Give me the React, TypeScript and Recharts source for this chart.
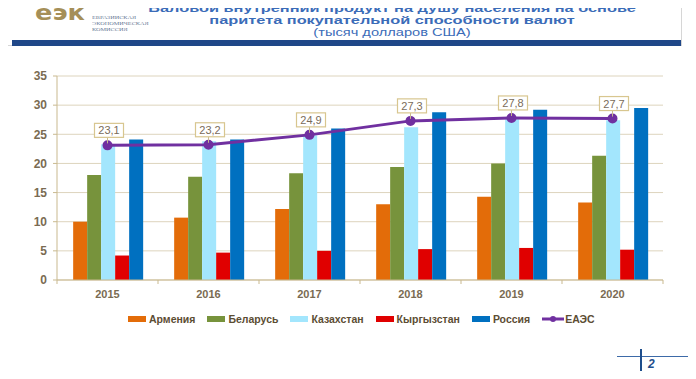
import React from "react";
import {
  ComposedChart,
  Bar,
  Line,
  XAxis,
  YAxis,
  CartesianGrid,
  LabelList,
} from "recharts";

const years = ["2015", "2016", "2017", "2018", "2019", "2020"];
const armenia = [10.0, 10.7, 12.2, 13.0, 14.3, 13.3];
const belarus = [18.0, 17.7, 18.3, 19.4, 20.0, 21.3];
const kazakhstan = [23.3, 23.8, 24.8, 26.2, 27.6, 27.4];
const kyrgyzstan = [4.2, 4.7, 5.0, 5.3, 5.5, 5.2];
const russia = [24.1, 24.1, 26.0, 28.8, 29.2, 29.5];
const eaes = [23.1, 23.2, 24.9, 27.3, 27.8, 27.7];
const yTicks = [0, 5, 10, 15, 20, 25, 30, 35];

const bars = [
  { key: "armenia", name: "Армения", color: "#e36c09" },
  { key: "belarus", name: "Беларусь", color: "#77933c" },
  { key: "kazakhstan", name: "Казахстан", color: "#a3e6fd" },
  { key: "kyrgyzstan", name: "Кыргызстан", color: "#e00000" },
  { key: "russia", name: "Россия", color: "#0070c0" },
];
const lineColor = "#7030a0";

const data = years.map((year, i) => ({
  year,
  armenia: armenia[i],
  belarus: belarus[i],
  kazakhstan: kazakhstan[i],
  kyrgyzstan: kyrgyzstan[i],
  russia: russia[i],
  eaes: eaes[i],
}));

const font = "'Liberation Sans', Arial, sans-serif";
const tickColor = "#7a6b52";
const gridColor = "#ddd4bd";
const titleColor = "#3b6cb8";

function YearTick(props: any) {
  const { x, y, payload, index } = props;
  const half = 50.5;
  return (
    <g>
      <line x1={x - half} y1={y - 8} x2={x - half} y2={y - 4} stroke="#c9b98f" />
      {index === years.length - 1 && (
        <line x1={x + half} y1={y - 8} x2={x + half} y2={y - 4} stroke="#c9b98f" />
      )}
      <text
        x={x}
        y={y + 10}
        textAnchor="middle"
        fill={tickColor}
        fontSize={11}
        fontWeight="bold"
        fontFamily={font}
      >
        {payload.value}
      </text>
    </g>
  );
}

function BoxLabel(props: any) {
  const { x, y, value } = props;
  const text = String(value).replace(".", ",");
  return (
    <g>
      <line x1={x} y1={y - 8} x2={x} y2={y - 2} stroke="#c9b98f" />
      <rect
        x={x - 13}
        y={y - 22}
        width={29}
        height={14}
        fill="#ffffff"
        stroke="#d8c68f"
        strokeWidth={1.2}
      />
      <text
        x={x + 1.5}
        y={y - 11}
        textAnchor="middle"
        fill="#7a6b5a"
        fontSize={11}
        fontFamily={font}
      >
        {text}
      </text>
    </g>
  );
}

function Legend() {
  return (
    <div
      style={{
        position: "absolute",
        left: 128,
        top: 313,
        display: "flex",
        alignItems: "center",
        fontFamily: font,
        fontSize: 10.5,
        fontWeight: "bold",
        color: "#5c4d33",
        whiteSpace: "nowrap",
      }}
    >
      {bars.map((b) => (
        <div key={b.key} style={{ display: "flex", alignItems: "center", marginRight: 12 }}>
          <span
            style={{ display: "inline-block", width: 18, height: 6, background: b.color, marginRight: 3 }}
          />
          {b.name}
        </div>
      ))}
      <div style={{ display: "flex", alignItems: "center" }}>
        <svg width={22} height={8} style={{ marginRight: 1 }}>
          <line x1={0} y1={4} x2={22} y2={4} stroke={lineColor} strokeWidth={3} />
          <circle cx={11} cy={4} r={3} fill={lineColor} />
        </svg>
        ЕАЭС
      </div>
    </div>
  );
}

function TitleLine({ text, top, size, bold, scale }: any) {
  return (
    <div
      style={{
        position: "absolute",
        left: 92,
        width: 600,
        top,
        textAlign: "center",
        fontFamily: font,
        fontSize: size,
        lineHeight: "12px",
        fontWeight: bold ? "bold" : "normal",
        color: titleColor,
        whiteSpace: "nowrap",
        transform: `scaleX(${scale})`,
        transformOrigin: "center",
      }}
    >
      {text}
    </div>
  );
}

export default function App() {
  return (
    <div style={{ position: "relative", width: 696, height: 379, margin: -8, background: "#fff", overflow: "hidden" }}>
      {/* header frame */}
      <div
        style={{
          position: "absolute",
          left: 1,
          top: -1,
          width: 681,
          height: 47,
          border: "1px solid #d6d6d6",
          boxSizing: "border-box",
        }}
      />
      <div style={{ position: "absolute", left: 12, top: 40, width: 669, height: 5.5, background: "#1f4788" }} />
      <div style={{ position: "absolute", left: 90, top: 0, width: 1, height: 6, background: "#b8a46c" }} />
      <div
        style={{
          position: "absolute",
          left: 35,
          top: 1,
          fontFamily: "'DejaVu Sans', sans-serif",
          fontSize: 21,
          fontWeight: "bold",
          color: "#a58f58",
          transform: "scaleX(1.22)",
          transformOrigin: "left",
        }}
      >
        еэк
      </div>
      <div
        style={{
          position: "absolute",
          left: 92,
          top: 15,
          fontFamily: "'Liberation Serif', serif",
          fontSize: 5,
          lineHeight: "6px",
          color: "#6a7a96",
          transform: "scaleX(1.25)",
          transformOrigin: "left",
        }}
      >
        ЕВРАЗИЙСКАЯ
        <br />
        ЭКОНОМИЧЕСКАЯ
        <br />
        КОМИССИЯ
      </div>
      <TitleLine
        text="Валовой внутренний продукт на душу населения на основе"
        top={2}
        size={11.5}
        bold
        scale={1.42}
      />
      <TitleLine text="паритета покупательной способности валют" top={14} size={11.5} bold scale={1.42} />
      <TitleLine text="(тысяч долларов США)" top={25.5} size={11} scale={1.33} />

      <div style={{ position: "absolute", left: 0, top: 0 }}>
        <ComposedChart
          width={696}
          height={379}
          data={data}
          margin={{ top: 76, right: 33, bottom: 69, left: 27 }}
          barCategoryGap="16%"
          barGap={0}
        >
          <CartesianGrid vertical={false} stroke={gridColor} />
          <XAxis
            dataKey="year"
            height={30}
            stroke="#c9b98f"
            tickLine={false}
            tick={<YearTick />}
            interval={0}
          />
          <YAxis
            width={30}
            domain={[0, 35]}
            ticks={yTicks}
            stroke="#c9b98f"
            tickSize={4}
            tickMargin={6}
            tick={{ fill: tickColor, fontSize: 12, fontFamily: font, fontWeight: "bold" }}
            interval={0}
          />
          {bars.map((b) => (
            <Bar key={b.key} dataKey={b.key} name={b.name} fill={b.color} isAnimationActive={false} />
          ))}
          <Line
            dataKey="eaes"
            name="ЕАЭС"
            stroke={lineColor}
            strokeWidth={3}
            dot={{ r: 3.5, fill: lineColor, stroke: lineColor }}
            isAnimationActive={false}
          >
            <LabelList dataKey="eaes" content={<BoxLabel />} />
          </Line>
        </ComposedChart>
      </div>

      <Legend />

      {/* slide number */}
      <div style={{ position: "absolute", left: 617, top: 356, width: 79, height: 1, background: "#3d6aa8" }} />
      <div style={{ position: "absolute", left: 640, top: 349, width: 2, height: 24, background: "#1f4e8c" }} />
      <div
        style={{
          position: "absolute",
          left: 648,
          top: 357,
          fontFamily: font,
          fontStyle: "italic",
          fontWeight: "bold",
          fontSize: 12,
          color: "#1f4e8c",
        }}
      >
        2
      </div>
    </div>
  );
}
